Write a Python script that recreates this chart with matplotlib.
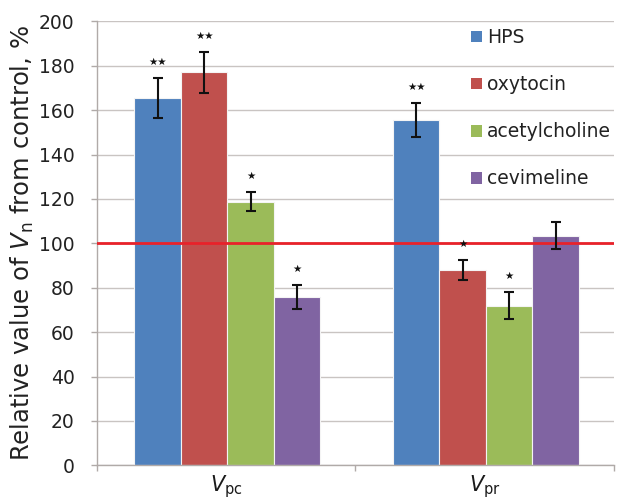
import matplotlib
matplotlib.use("Agg")
import matplotlib.pyplot as plt
import numpy as np
from matplotlib.patches import Patch

plt.rcParams['font.family'] = ['DejaVu Sans']
plt.rcParams['mathtext.fontset'] = 'dejavusans'

categories = [r'$V_{\mathrm{pc}}$', r'$V_{\mathrm{pr}}$']
series = ['HPS', 'oxytocin', 'acetylcholine', 'cevimeline']
values = {
    'HPS': [165.3, 155.5],
    'oxytocin': [177.0, 88.0],
    'acetylcholine': [118.7, 71.9],
    'cevimeline': [75.9, 103.4],
}
errors = {
    'HPS': [9.0, 7.6],
    'oxytocin': [9.3, 4.5],
    'acetylcholine': [4.3, 6.0],
    'cevimeline': [5.4, 6.0],
}
stars = {
    'HPS': ['★★', '★★'],
    'oxytocin': ['★★', '★'],
    'acetylcholine': ['★', '★'],
    'cevimeline': ['★', ''],
}
colors = ['#4F81BD', '#C0504D', '#9BBB59', '#8064A2']
yticks = [0, 20, 40, 60, 80, 100, 120, 140, 160, 180, 200]
control = 100

fig = plt.figure(figsize=(6.17, 5.01), dpi=100)
ax = fig.add_axes([0.157, 0.0713, 0.838, 0.886])

x = np.arange(len(categories))
w = 0.18
offsets = [-0.27, -0.09, 0.09, 0.27]
for i, s in enumerate(series):
    xs = x + offsets[i] + 0.005
    ax.bar(xs, values[s], width=w, color=colors[i], edgecolor='#f4f4f4',
           linewidth=0.8, zorder=2)
    ax.errorbar(xs, values[s], yerr=errors[s], fmt='none', ecolor='#111111',
                elinewidth=1.5, capsize=3.3, capthick=1.5, zorder=4)
    for xi, v, e, st in zip(xs, values[s], errors[s], stars[s]):
        if st:
            ax.text(xi, v + e + 7.2, st, ha='center', va='center',
                    fontsize=7.5, color='#111111', zorder=5)

ax.axhline(control, color='#E8222A', linewidth=2.0, zorder=3)

ax.set_xlim(-0.5, 1.5)
ax.set_ylim(0, 200)
ax.set_yticks(yticks)
ax.set_yticklabels([str(t) for t in yticks])
ax.yaxis.grid(True, color='#c9c4c2', linewidth=1.0, zorder=0)
ax.set_axisbelow(True)
ax.set_xticks([-0.5, 0.5, 1.5], minor=False)
ax.set_xticklabels(['', '', ''])
ax.tick_params(axis='x', direction='out', length=4, color='#b0aaa8', width=1)
ax.tick_params(axis='y', direction='out', length=4, color='#b0aaa8', width=1,
               labelsize=13.5, pad=12, labelcolor='#222222')
for sp in ['top', 'right']:
    ax.spines[sp].set_visible(False)
for sp in ['left', 'bottom']:
    ax.spines[sp].set_color('#b0aaa8')
    ax.spines[sp].set_linewidth(1.0)

for xi, lab in zip(x, categories):
    ax.text(xi, -0.0775, lab, transform=ax.get_xaxis_transform(), ha='center',
            va='bottom', fontsize=15, color='#1a1a1a')

ax.set_ylabel(r'Relative value of $V_{\mathrm{n}}$ from control, %', fontsize=17.5,
              color='#222222', labelpad=2)

handles = [Patch(facecolor=c, edgecolor='none') for c in colors]
leg = ax.legend(handles, series, loc='upper left', bbox_to_anchor=(0.723, 0.985),
                frameon=False, fontsize=13.5, handlelength=0.58, handleheight=0.58,
                handletextpad=0.3, labelspacing=1.5, borderaxespad=0, borderpad=0)
for t in leg.get_texts():
    t.set_color('#222222')

fig.savefig('out.png', dpi=100)
